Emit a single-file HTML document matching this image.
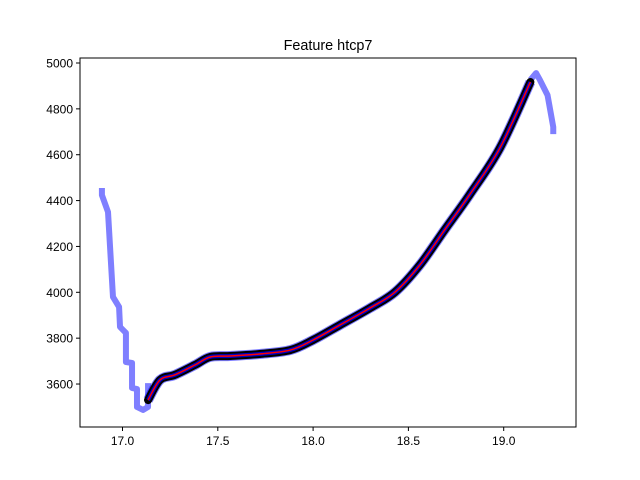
<!DOCTYPE html>
<html><head><meta charset="utf-8"><style>body{margin:0;background:#fff}svg{display:block;font-family:"Liberation Sans",sans-serif}</style></head>
<body>
<svg id="c" width="640" height="480"></svg>
<script>
const rawX=[16.892,16.892,16.924,16.950,16.982,16.987,17.018,17.018,17.050,17.050,17.076,17.076,17.108,17.134,17.134];
const rawY=[4455,4424,4350,3980,3936,3849,3823,3696,3692,3583,3578,3500,3487,3500,3604];
const fitX=[17.134,17.197,17.275,17.38,17.46,17.565,17.72,17.88,18.0,18.14,18.30,18.43,18.56,18.69,18.82,18.98,19.14];
const fitY=[3530,3618,3640,3683,3718,3722,3731,3748,3792,3857,3932,4001,4119,4272,4424,4629,4917];
const tailX=[19.14,19.17,19.19,19.23,19.26,19.26];
const tailY=[4926,4956,4926,4860,4721,4690];
const xTicks=[17.0,17.5,18.0,18.5,19.0];
const yTicks=[3600,3800,4000,4200,4400,4600,4800,5000];
const NS="http://www.w3.org/2000/svg",svg=document.getElementById('c');
const L=80,R=576,T=58,B=427;
const sx=v=>122.5+(v-17)*190.6, sy=v=>63+(5000-v)*0.2293;
function mk(t,a){const e=document.createElementNS(NS,t);for(const k in a)e.setAttribute(k,a[k]);svg.appendChild(e);return e;}
function pts(xs,ys){return xs.map((x,i)=>sx(x)+','+sy(ys[i])).join(' ');}
function smooth(xs,ys){const P=xs.map((x,i)=>[sx(x),sy(ys[i])]);let d='M'+P[0][0]+','+P[0][1];
 for(let i=0;i<P.length-1;i++){const p0=P[Math.max(0,i-1)],p1=P[i],p2=P[i+1],p3=P[Math.min(P.length-1,i+2)];
  d+=` C${p1[0]+(p2[0]-p0[0])/6},${p1[1]+(p2[1]-p0[1])/6} ${p2[0]-(p3[0]-p1[0])/6},${p2[1]-(p3[1]-p1[1])/6} ${p2[0]},${p2[1]}`;}
 return d;}
const bx=rawX.concat(fitX,tailX), by=rawY.concat(fitY,tailY);
let p=mk('polyline',{points:pts(rawX,rawY),fill:'none',stroke:'#0000ff','stroke-opacity':0.5,'stroke-width':6,'stroke-linejoin':'round'});

p=mk('path',{d:smooth(fitX,fitY),fill:'none',stroke:'#0000ff','stroke-opacity':0.5,'stroke-width':10,'stroke-linejoin':'round'});

p=mk('polyline',{points:pts(tailX,tailY),fill:'none',stroke:'#0000ff','stroke-opacity':0.5,'stroke-width':6,'stroke-linejoin':'round'});

const d=smooth(fitX,fitY);
p=mk('path',{d:d,fill:'none',stroke:'#000','stroke-width':8,'stroke-linecap':'round','stroke-linejoin':'round'});

p=mk('path',{d:d,fill:'none',stroke:'#0000c8','stroke-width':4,'stroke-linejoin':'round'});

p=mk('path',{d:d,fill:'none',stroke:'#ff0000','stroke-width':1.5,'stroke-linejoin':'round'});

p=mk('rect',{x:L,y:T,width:R-L,height:B-T,fill:'none',stroke:'#000','stroke-width':1});

xTicks.forEach(v=>{const x=sx(v);
 let l=mk('line',{x1:x,x2:x,y1:B,y2:B+4,stroke:'#000'});
 let t=mk('text',{x:x,y:B+18,'text-anchor':'middle','font-size':12});t.textContent=v.toFixed(1);
 });
yTicks.forEach(v=>{const y=sy(v);
 let l=mk('line',{x1:L-4,x2:L,y1:y,y2:y,stroke:'#000'});
 let t=mk('text',{x:L-7,y:y+4.5,'text-anchor':'end','font-size':12});t.textContent=v;
 });
let t=mk('text',{x:(L+R)/2,y:50,'text-anchor':'middle','font-size':14.4});t.textContent='Feature htcp7';

</script>
</body></html>
